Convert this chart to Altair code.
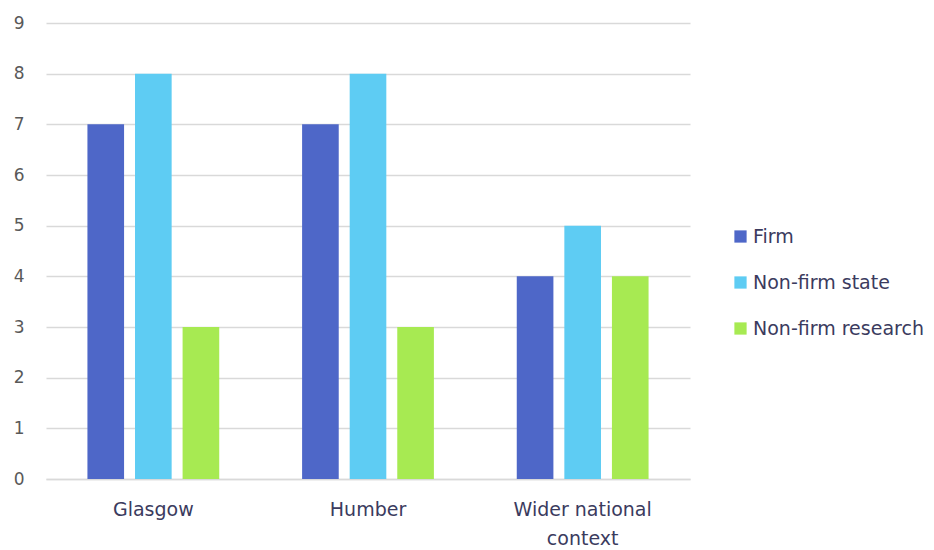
import altair as alt
import pandas as pd

regions = ["Glasgow", "Humber", "Wider national context"]
series = ["Firm", "Non-firm state", "Non-firm research"]
firm = [7, 7, 4]
state = [8, 8, 5]
research = [3, 3, 4]
colors = ["#4E67C8", "#5ECCF3", "#A7EA52"]

rows = []
for i, r in enumerate(regions):
    for s, vals in zip(series, [firm, state, research]):
        rows.append({"region": r, "series": s, "value": vals[i]})
df = pd.DataFrame(rows)

font = "DejaVu Sans"

chart = alt.Chart(df).mark_bar().encode(
    x=alt.X("region:N", sort=regions, title=None,
            scale=alt.Scale(paddingInner=0.386, paddingOuter=0.193),
            axis=alt.Axis(labelAngle=0, labelFontSize=19, labelFont=font,
                          labelColor="#3b3b5e", labelPadding=21,
                          ticks=False, domainColor="#d9d9d9", domainWidth=1.5,
                          labelExpr="datum.label == 'Wider national context' ? ['Wider national', 'context'] : datum.label",
                          labelLineHeight=29)),
    xOffset=alt.XOffset("series:N", sort=series,
                        scale=alt.Scale(paddingInner=0.23, paddingOuter=0)),
    y=alt.Y("value:Q", title=None,
            scale=alt.Scale(domain=[0, 9], nice=False),
            axis=alt.Axis(values=list(range(10)), labelFontSize=17, labelFont=font,
                          labelColor="#595959", labelPadding=22, ticks=False,
                          domain=False, gridColor="#d9d9d9", gridWidth=1.5)),
    color=alt.Color("series:N", sort=series,
                    scale=alt.Scale(domain=series, range=colors),
                    legend=alt.Legend(title=None, orient="none", legendX=685, legendY=204,
                                      symbolType="square", symbolSize=150,
                                      symbolStrokeWidth=0,
                                      labelFontSize=19, labelFont=font, labelLimit=400,
                                      labelColor="#3b3b5e", rowPadding=26,
                                      labelOffset=3)),
).properties(
    width=644, height=456,
    autosize=alt.AutoSizeParams(type="none"),
    padding={"left": 46, "top": 23, "right": 244, "bottom": 71},
    background="white",
).configure_view(strokeWidth=0, stroke="transparent")

chart.save("out.html", embed_options={"renderer": "svg", "actions": False})
